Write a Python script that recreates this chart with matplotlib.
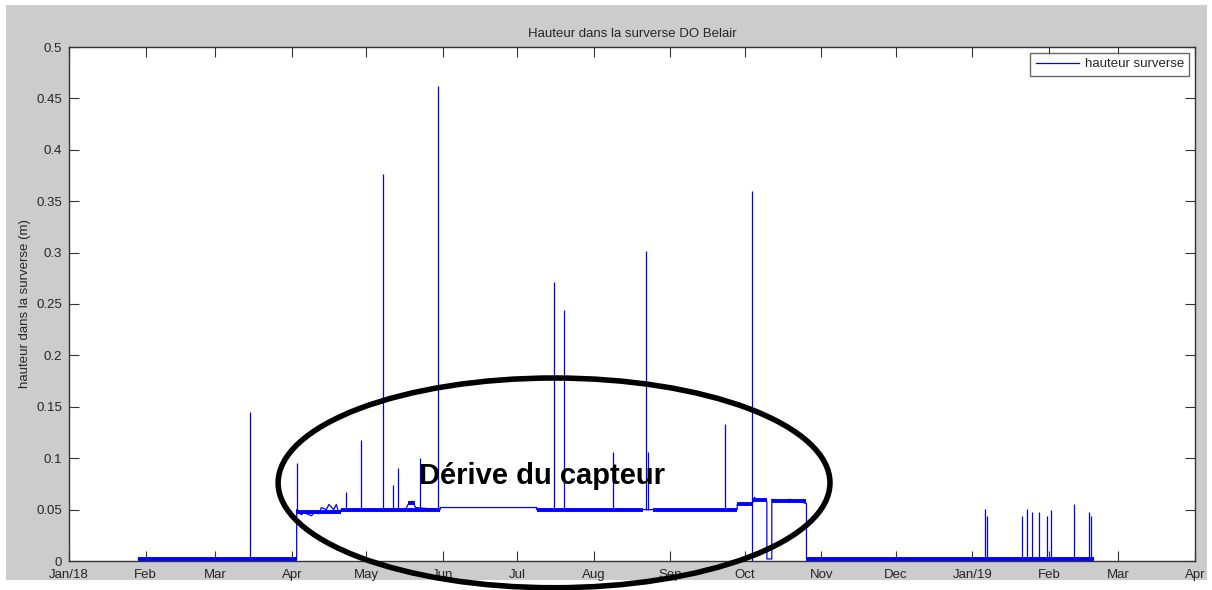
import numpy as np
import pandas as pd
import matplotlib
matplotlib.use("Agg")
import matplotlib.pyplot as plt
import matplotlib.dates as mdates
from matplotlib.patches import Ellipse, Rectangle

plt.rcParams['font.family'] = ['Liberation Sans', 'DejaVu Sans']

# ---------------- data ----------------
title = "Hauteur dans la surverse DO Belair"
ylabel = "hauteur dans la surverse (m)"
legend_label = "hauteur surverse"
annotation = "Dérive du capteur"

# main trace vertices (date, value)
trace_dates = [
    "2018-01-29", "2018-04-03", "2018-04-03", "2018-04-04", "2018-04-05", "2018-04-06",
    "2018-04-07", "2018-04-09", "2018-04-10", "2018-04-12", "2018-04-13", "2018-04-15",
    "2018-04-16", "2018-04-18", "2018-04-19", "2018-04-20", "2018-04-21", "2018-05-17",
    "2018-05-18", "2018-05-20", "2018-05-21", "2018-05-31", "2018-05-31", "2018-07-09",
    "2018-07-09", "2018-09-28", "2018-09-28", "2018-10-04", "2018-10-05", "2018-10-06",
    "2018-10-07", "2018-10-10", "2018-10-10", "2018-10-12", "2018-10-12", "2018-10-18",
    "2018-10-19", "2018-10-26", "2018-10-26", "2019-02-19",
]
trace_values = [
    0.002, 0.002, 0.050, 0.047, 0.045, 0.048,
    0.046, 0.044, 0.047, 0.046, 0.052, 0.050,
    0.055, 0.050, 0.055, 0.047, 0.050, 0.050,
    0.055, 0.058, 0.052, 0.050, 0.052, 0.052,
    0.050, 0.050, 0.055, 0.055, 0.062, 0.058,
    0.060, 0.058, 0.002, 0.002, 0.060, 0.058,
    0.060, 0.056, 0.002, 0.002,
]

# noisy bands drawn thicker (start, end, level)
band_starts = ["2018-01-29", "2018-04-03", "2018-04-21", "2018-05-18", "2018-07-09", "2018-08-25",
               "2018-09-28", "2018-10-04", "2018-10-12", "2018-10-26"]
band_ends   = ["2018-04-03", "2018-04-21", "2018-05-31", "2018-05-21", "2018-08-21", "2018-09-28",
               "2018-10-04", "2018-10-10", "2018-10-26", "2019-02-19"]
band_levels = [0.002, 0.048, 0.0495, 0.056, 0.0495, 0.0495, 0.055, 0.059, 0.058, 0.002]

# spikes (date, base, peak)
spike_dates = [
    "2018-03-15", "2018-04-03", "2018-04-23", "2018-04-29", "2018-05-08", "2018-05-12",
    "2018-05-14", "2018-05-23", "2018-05-30", "2018-07-16", "2018-07-20", "2018-08-09",
    "2018-08-22", "2018-08-23", "2018-09-23", "2018-10-04",
    "2019-01-06", "2019-01-07", "2019-01-21", "2019-01-23", "2019-01-25", "2019-01-28",
    "2019-01-31", "2019-02-02", "2019-02-11", "2019-02-17", "2019-02-18",
]
spike_bases = [
    0.002, 0.05, 0.05, 0.05, 0.05, 0.05,
    0.05, 0.05, 0.05, 0.05, 0.05, 0.05,
    0.05, 0.05, 0.05, 0.0,
    0.002, 0.002, 0.002, 0.002, 0.002, 0.002,
    0.002, 0.002, 0.002, 0.002, 0.002,
]
spike_peaks = [
    0.145, 0.095, 0.067, 0.118, 0.376, 0.074,
    0.090, 0.100, 0.462, 0.271, 0.244, 0.106,
    0.302, 0.106, 0.133, 0.360,
    0.051, 0.044, 0.044, 0.051, 0.048, 0.048,
    0.044, 0.050, 0.055, 0.048, 0.044,
]

x_ticks = ["2018-01-01", "2018-02-01", "2018-03-01", "2018-04-01", "2018-05-01", "2018-06-01",
           "2018-07-01", "2018-08-01", "2018-09-01", "2018-10-01", "2018-11-01", "2018-12-01",
           "2019-01-01", "2019-02-01", "2019-03-01", "2019-04-01"]
x_tick_labels = ["Jan/18", "Feb", "Mar", "Apr", "May", "Jun", "Jul", "Aug", "Sep", "Oct",
                 "Nov", "Dec", "Jan/19", "Feb", "Mar", "Apr"]
y_ticks = [0, 0.05, 0.1, 0.15, 0.2, 0.25, 0.3, 0.35, 0.4, 0.45, 0.5]
y_tick_labels = ["0", "0.05", "0.1", "0.15", "0.2", "0.25", "0.3", "0.35", "0.4", "0.45", "0.5"]

# ---------------- figure ----------------
W, H = 1212, 590
fig = plt.figure(figsize=(W / 100, H / 100), dpi=100, facecolor="white")
fig.patches.append(Rectangle((6 / W, 10 / H), (1207 - 6) / W, (585 - 10) / H,
                             transform=fig.transFigure, facecolor="#cccccc",
                             edgecolor="none", zorder=-10))

ax = fig.add_axes([69 / W, (H - 561) / H, (1195 - 69) / W, (561 - 47) / H])
ax.set_facecolor("white")

blue = "#0000ff"
td = pd.to_datetime(trace_dates)
ax.plot(td, trace_values, color=blue, lw=0.9, zorder=3, label=legend_label)

for s, e, lv in zip(band_starts, band_ends, band_levels):
    ax.plot(pd.to_datetime([s, e]), [lv, lv], color=blue, lw=2.8,
            solid_capstyle="butt", zorder=3)

sd = pd.to_datetime(spike_dates)
ax.vlines(sd, spike_bases, spike_peaks, color=blue, lw=0.9, zorder=3)

ax.set_xlim(pd.Timestamp("2018-01-01"), pd.Timestamp("2019-04-01"))
ax.set_ylim(0, 0.5)
ax.set_xticks(pd.to_datetime(x_ticks))
ax.set_xticklabels(x_tick_labels)
ax.set_yticks(y_ticks)
ax.set_yticklabels(y_tick_labels)

for sp in ax.spines.values():
    sp.set_color("#333333")
    sp.set_linewidth(1.0)
ax.tick_params(direction="in", length=7, width=0.8, color="#333333",
               labelsize=9.5, labelcolor="#262626", top=True, right=True)
ax.tick_params(axis="x", pad=6)
ax.tick_params(axis="y", pad=5)

ax.set_title(title, fontsize=9.5, color="#262626", pad=7)
ax.set_ylabel(ylabel, fontsize=9.5, color="#262626", labelpad=4)

leg = ax.legend(loc="upper right", fontsize=9.5, frameon=True, fancybox=False,
                borderaxespad=0.45, handlelength=3.3, borderpad=0.4, handletextpad=0.4)
leg.get_frame().set_edgecolor("#444444")
leg.get_frame().set_linewidth(1.0)
for t in leg.get_texts():
    t.set_color("#262626")

# annotation ellipse
ell_center_x = mdates.date2num(pd.Timestamp("2018-07-16"))
ell = Ellipse((ell_center_x, 0.076), width=223, height=0.204, fill=False,
              edgecolor="black", lw=4, clip_on=False, zorder=5)
ax.add_patch(ell)
ax.text(mdates.date2num(pd.Timestamp("2018-07-11")), 0.083, annotation,
        fontsize=21, fontweight="bold", ha="center", va="center", color="black", zorder=6)

fig.savefig("out.png", dpi=100, facecolor="white")
